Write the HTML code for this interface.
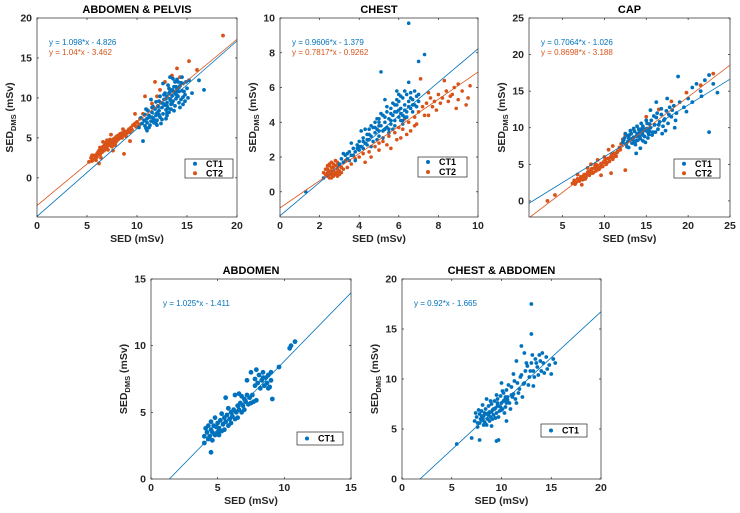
<!DOCTYPE html>
<html><head><meta charset="utf-8"><style>
body{margin:0;background:#fff;}
svg{display:block;font-family:"Liberation Sans",Arial,sans-serif;}
.tk{font-size:10.5px;font-weight:bold;fill:#262626;}
.tt{font-size:11px;font-weight:bold;fill:#000;}
.lb{font-size:10.5px;font-weight:bold;fill:#262626;}
.eq{font-size:8px;}
.lg{font-size:9px;font-weight:bold;fill:#000;}
</style></head><body>
<svg id="fig" width="740" height="513" viewBox="0 0 740 513"></svg>
<script>
const BLUE='#0072BD', ORANGE='#D95319';
// ---- data ----
const titles=['ABDOMEN & PELVIS','CHEST','CAP','ABDOMEN','CHEST & ABDOMEN'];
const xTicks=[[0,5,10,15,20],[0,2,4,6,8,10],[5,10,15,20,25],[0,5,10,15],[0,5,10,15,20]];
const yTicks=[[0,5,10,15,20],[0,2,4,6,8,10],[0,5,10,15,20,25],[0,5,10,15],[0,5,10,15,20]];
const xLims=[[0,20],[0,10],[1,25],[0,15],[0,20]];
const yLims=[[-4.9,20],[-1.45,10],[-2.2,25],[0,15],[0,20]];
const fitCT1=[[1.098,-4.826],[0.9606,-1.379],[0.7064,-1.026],[1.025,-1.411],[0.92,-1.665]];
const fitCT2=[[1.04,-3.462],[0.7817,-0.9262],[0.8698,-3.188],null,null];
const eqCT1=['y = 1.098*x - 4.826','y = 0.9606*x - 1.379','y = 0.7064*x - 1.026','y = 1.025*x - 1.411','y = 0.92*x - 1.665'];
const eqCT2=['y = 1.04*x - 3.462','y = 0.7817*x - 0.9262','y = 0.8698*x - 3.188',null,null];
const ct1Points=[
"10.5,6.8 10.7,7.2 10.8,6.5 11,7.4 11,6.9 11.2,7.8 11.3,6.6 11.4,7.1 11.5,8.2 11.6,7.5 11.7,6.9 11.8,8.6 11.9,7.8 12,8.1 12,7.2 12.1,9 12.2,8.4 12.3,7.6 12.4,9.4 12.5,8.8 12.6,8 12.7,9.8 12.8,9.1 12.9,8.5 13,10.2 13,9.4 13.1,8.7 13.2,10.6 13.3,9.9 13.4,9.2 13.5,11 13.5,10.3 13.6,9.6 13.7,11.4 13.8,10.6 13.9,9.9 14,11.1 14,10.3 14.1,12 14.2,10.8 14.3,11.5 14.4,9.8 14.5,10.9 14.6,11.8 14.8,10.4 15,11.2 15.2,12.2 16.2,12.2 16.7,11 12.6,11.8 11.9,9.5 13.2,8.2 12.4,6.8 10.9,6.2 10.6,4.6 13.8,12 14.6,9.2 11.5,8.8 12.8,10.6 13.6,12.4 10.2,6.3 11.1,8.4 12,6.6 13,7.8 14.3,8.8 15.5,10.6 13.3,10.8 13.9,11.4 14.1,10.2 12.9,9.9 13.5,9.3 14.7,10.8 12.2,7.9 11.3,7.6",
"3.0,1.6 3.1,1.9 3.2,1.7 3.3,2.1 3.4,1.9 3.5,2.3 3.6,2.1 3.7,2.5 3.8,2.3 3.9,2.7 4,2.4 4,2.9 4.1,2.6 4.2,3.1 4.3,2.8 4.4,3.3 4.5,3 4.5,3.6 4.6,3.2 4.7,3.7 4.8,3.4 4.8,4 4.9,3.6 5,4.2 5,3.2 5.1,3.8 5.2,4.4 5.2,3.5 5.3,4 5.4,4.6 5.4,3.7 5.5,4.2 5.6,4.8 5.6,3.9 5.7,4.4 5.8,5 5.8,4.1 5.9,4.6 6,5.2 6,4.3 6.1,4.8 6.2,5.4 6.2,4.4 6.3,5 6.4,5.6 6.4,4.6 6.5,5.2 6.6,5.7 6.6,4.8 6.7,5.3 6.8,5 6.9,5.5 7,5.2 5.1,6.9 6.5,9.7 7,7.5 7.3,7.9 6.5,6.3 5.9,5.8 4.3,3.6 3.6,2.8 2.2,0.8 1.3,0 4.6,2.6 5.5,3.4 3.8,1.8 6.2,3.9 4.1,3.5 5.3,5.3 5.7,3.6 6.1,4.1 4.9,3 5.9,5.3 6.3,4.3 5.0,3.8",
"12.2,8 12.4,8.6 12.6,7.8 12.8,8.9 13,8.3 13.2,9.2 13.3,7.9 13.5,8.7 13.6,9.5 13.8,8.2 14,9 14.1,9.8 14.3,8.5 14.5,9.3 14.6,10.2 14.8,8.8 15,9.6 15.1,10.6 15.3,9.1 15.5,10 15.6,11 15.8,9.4 16,10.4 16.2,11.4 16.4,9.8 16.6,10.8 16.8,11.8 17,10.2 17.2,11.2 17.4,12.3 17.6,10.6 17.8,12.8 18,11.5 18.3,13 18.6,12 19,13.5 19.5,12.8 20,14 20.5,15.5 21,16 21.5,15 22,16.5 22.5,17.2 23,16 23.5,14.8 20.5,13.5 22.5,9.4 18.8,17 14.3,7.2 13.8,6.5 15.5,12.4 16.2,13.5 17.5,14 12.9,7.3 14.9,8 16.9,9.2 18.4,10 19.8,12.2 21.6,14.3 13.4,8.4 14.2,8.8 15.2,9.4 13.9,9.2 14.7,9.7",
"4,3.2 4.1,3.8 4.2,3.5 4.3,4 4.4,3.2 4.5,3.7 4.5,4.3 4.6,3.5 4.7,4 4.8,3.3 4.8,4.6 4.9,3.9 5,3.5 5,4.2 5.1,3.8 5.2,4.4 5.3,3.6 5.4,4.1 5.5,4.6 5.5,3.7 5.6,4.3 5.7,4.8 5.8,4 5.9,4.5 6,5 6,4.2 6.1,4.7 6.2,5.2 6.3,4.5 6.4,5 6.5,5.5 6.5,4.6 6.6,5.2 6.7,5.7 6.8,5 6.9,5.5 7,6 7,5.2 7.1,5.8 7.2,6.3 7.3,5.6 7.4,6.1 7.5,5.7 7.6,6.3 7.7,5.8 7.8,7 7.8,7.5 7.9,8.2 8,7.2 8.1,7.8 8.2,6.8 8.3,7.4 8.4,8 8.5,7 8.6,7.6 8.7,7.2 8.8,7.8 8.9,6.9 9,7.4 9.1,6 9,8 9.6,8.4 10.4,9.8 10.5,10 10.8,10.3 4.5,2 5.6,6.1 7.2,7.4 7.9,5.9 6.3,6.3 6.6,6.4 4,2.7 4.3,3 5.3,4.9 5.8,5.3 8.4,7.6 8.8,6.8 7.5,8 6.8,6.2 5.1,3.3 4.6,2.9",
"7.3,5.8 7.5,6.2 7.6,5.6 7.8,6.5 8,5.9 8,6.8 8.2,6.3 8.3,5.7 8.4,7 8.5,6.5 8.6,6 8.7,7.3 8.8,6.7 8.9,6.2 9,7.5 9.1,6.9 9.2,6.4 9.3,7.8 9.4,7.1 9.5,6.6 9.6,8 9.7,7.3 9.8,6.8 9.9,8.3 10,7.6 10.1,7 10.2,8.6 10.3,7.9 10.4,7.2 10.5,8.9 10.6,8.2 10.8,7.6 11,9.2 11.2,8.5 11.4,8 11.6,9.6 11.8,9 12,10.4 12.2,9.5 12.4,10.8 12.6,11.3 12.8,10.2 13,11.6 13.2,10.8 13.4,12 13.6,11.2 13.8,12.4 14,10.8 14.2,11.6 14.5,12.2 14.8,11.4 15,10.5 15.4,11.6 12,13.3 13,17.5 13,14.5 9.5,3.8 9.7,3.9 7.8,3.9 5.5,3.5 7,4.1 9,5.3 10.5,5.8 11.2,10.5 12.3,12.6 10,9.6 8.5,8 11.5,11.8 13.2,9.3 8.1,6.1 8.7,6.6 9.2,7 9.6,7.4 8.4,5.5 7.7,6.9 10.2,7.8"
];
const ct1More=[
"10.8,7.9 11.2,6.3 11.6,8.9 11.9,6.8 12.2,9.6 12.5,7.3 12.7,10.4 13,8.1 13.2,11.2 13.4,8.6 13.6,10.9 13.8,9 14,12.3 14.2,9.4 14.4,11.9 14.6,10.1 14.9,12 15.1,10 13.1,11.6 12.3,10.2 11.4,9.8 12.9,7.4 13.7,8.4 14.8,9.6 13.3,12.6 12.1,8.9 11.7,7.3 10.4,7.5 10.9,8.6 13.9,10.8 14.2,11.3 13.4,9.6 12.6,9.3 13.0,9.0 14.5,12.6 11.0,5.9",
"3.2,2.2 3.5,1.8 3.7,2.1 4.0,2.6 4.2,2.5 4.4,2.7 4.4,3.0 4.6,3.8 4.7,2.9 4.9,4.2 5.0,3.5 5.1,4.5 5.2,3.1 5.3,4.3 5.4,4.9 5.5,3.6 5.6,4.5 5.7,5.1 5.8,3.8 5.9,5.0 6.0,4.7 6.1,5.5 6.2,4.1 6.3,5.8 6.4,4.3 6.5,4.9 6.6,5.4 6.7,4.6 6.8,5.8 6.9,4.9 7.0,5.6 4.5,3.3 4.8,3.7 5.0,4.0 5.3,3.6 5.6,4.1 5.8,4.6 6.1,4.5 4.2,2.9 3.9,2.5 3.4,2.2 6.0,5.6 6.3,4.7 6.7,5.0",
"12.3,8.3 12.5,9.2 12.7,7.4 12.9,8.6 13.1,9.6 13.3,8.5 13.5,9.9 13.7,7.7 13.9,10.2 14.0,8.3 14.2,9.4 14.4,10.6 14.6,8.2 14.8,9.8 15.0,11.0 15.2,8.6 15.4,10.5 15.7,9.0 15.9,11.6 16.1,9.4 16.3,12.0 16.5,10.4 16.8,12.6 17.1,11.0 17.3,9.6 17.7,11.8 18.1,12.4 18.5,11.0 13.0,9.0 13.8,8.8 14.6,9.0 15.4,9.5 12.8,8.1 13.6,8.0 14.4,9.8 15.1,9.9",
"",
"7.4,6.6 7.6,5.2 7.9,6.0 8.1,7.4 8.3,6.6 8.5,5.4 8.7,6.4 8.9,7.8 9.1,6.0 9.3,7.0 9.5,8.4 9.7,6.2 9.9,7.2 10.1,8.8 10.3,6.6 10.5,7.6 10.7,9.4 10.9,7.0 11.1,8.2 11.3,9.8 11.5,7.6 11.7,8.6 11.9,10.2 12.1,8.2 12.3,9.6 12.5,11.6 12.7,9.4 12.9,10.8 13.1,12.4 13.3,10.2 13.5,11.6 13.7,10.4 13.9,11.8 14.1,12.6 14.3,10.6 14.6,11.0 15.2,12.0 7.8,5.6 8.2,5.4 8.8,5.8 9.4,6.1 10.0,6.9 10.6,7.9 11.0,8.4 8.0,6.3 9.0,6.7 9.6,7.6 10.4,8.2"
];
const ct2Points=[
"5.2,2 5.4,2.5 5.5,2.1 5.7,2.8 5.8,2.4 6,3 6,2.6 6.2,3.4 6.3,2.9 6.4,3.6 6.5,3.2 6.6,3.9 6.7,3.4 6.8,4.1 6.9,3.6 7,4.3 7,3.9 7.1,4.6 7.2,4.1 7.3,4.4 7.4,4 7.5,4.7 7.6,4.3 7.7,4.9 7.8,4.5 7.9,5.1 8,4.7 8.1,5.3 8.2,4.9 8.3,5.5 8.4,5.1 8.5,5.6 8.6,5.3 8.8,5.8 9,5.6 9.2,6.1 9.4,6.3 9.6,6.6 9.8,6.8 10,7 10.3,7.4 10.6,8 11,8.5 11.5,9.3 12,10.2 12.3,11 12.8,12 13.5,12.8 14,13.7 14.3,12.6 15.2,14.6 16,13.5 18.6,17.8 8.7,3 9.3,4.6 6.2,1.8 7.6,3.4 10.8,10.2 11.8,12 9.8,8 7.4,5.4 6.6,4.5 7.2,4.6 7.8,4.2 8.0,5.2 6.9,4.0",
"2.3,1 2.4,1.3 2.4,0.9 2.5,1.2 2.5,1.5 2.6,1 2.6,1.4 2.7,1.2 2.7,0.9 2.8,1.5 2.8,1.1 2.9,1.3 2.9,0.9 3,1.2 3,1.5 3.1,1.1 2.5,0.8 2.6,1.7 2.8,1.8 2.2,1.1 3.2,1.3 3.4,1.4 3.6,1.6 3.8,1.9 4,2 4.2,2.2 4.5,2.3 4.8,2.6 5,2.8 5.2,2.9 5.5,3.2 5.8,3.4 6,3.7 6.2,3.6 6.5,4 6.8,4.3 7,4.6 7.2,4.9 7.4,5.1 7.6,5.4 7.8,5.2 8,5.6 8.2,5.4 8.4,5.8 8.6,5.5 8.8,6 9,5.3 9.2,5.8 9.5,5.4 9.6,6.1 8.3,6.4 7.1,6.5 7.5,4.4 6.6,3.5 5.6,2.5 4.3,1.7 8.9,4.8 7.9,4.7 6.3,4.2 3.3,1.8 2.7,1.6 2.9,1.7 2.4,1.1 2.6,1.2",
"6.2,2.4 6.4,2.8 6.6,2.5 6.8,3 7,2.7 7.2,3.3 7.4,2.9 7.6,3.6 7.8,3.2 8,3.9 8.2,3.5 8.4,4.2 8.6,3.8 8.8,4.5 9,4.1 9.2,4.8 9.4,4.4 9.6,5.1 9.8,4.7 10,5.4 10.2,5 10.4,5.8 10.6,5.4 10.8,6.1 11,5.7 11.2,6.5 11.4,6.1 11.6,6.8 11.8,7.3 12,7.8 12.2,8.4 12.5,9 11,7.5 10.5,7 9.2,5.6 8.4,5 7.3,2.2 9.6,3.5 12.5,4.2 10.8,3.8 13.5,9.8 15,11.5 16.5,12.5 18,13.6 19.8,14.8 21.5,15.8 23,17.4 6.8,3.6 3.2,0 4.1,0.8 8.9,4.9 9.5,4.6 10.1,5.6",
null,null
];
const ct2More=[
"5.5,2.8 5.9,2.2 6.1,3.2 6.4,2.5 6.6,3.7 6.9,4.4 7.1,3.5 7.3,4.8 7.5,3.9 7.7,4.4 7.9,4.5 8.1,4.8 8.3,5.0 8.5,5.0 8.7,5.6 8.9,5.2 9.1,5.9 9.3,5.7 9.5,6.0 7.0,4.7 6.3,3.8 5.6,2.3 8.6,6.1 9.9,6.4 10.2,6.7 7.8,4.1 6.7,4.0",
"2.4,1.5 2.5,1.0 2.6,0.8 2.7,1.4 2.8,1.0 2.9,1.5 3.0,1.0 2.3,1.3 2.5,1.6 2.7,1.0 2.9,1.1 3.1,1.4 4.6,2.0 5.0,2.4 5.4,2.7 5.9,3.0 6.4,3.3 6.9,3.9 7.3,4.4 7.7,4.9 8.1,5.1 8.5,5.2 9.0,6.2 9.4,5.0 8.7,5.6 7.5,5.7 6.8,3.8 6.1,3.1",
"6.5,2.3 6.9,2.8 7.1,3.0 7.5,3.4 7.9,3.6 8.1,4.0 8.5,4.4 8.7,3.9 9.1,4.6 9.3,4.3 9.7,4.9 9.9,5.3 10.1,5.6 10.3,5.2 10.7,5.9 10.9,6.4 11.1,6.0 11.5,6.6 11.9,7.0 8.0,4.5 9.0,5.0 10.0,6.0 7.7,3.0 8.3,3.8",
null,null
];
// ---- layout ----
const boxes=[[37,18,237,217],[280,18,478,217],[529,18,730,217],[151,279,351,479],[402,279,601,479]];
const legendBoxes=[[185,159,233,178],[418,157,467,177],[674,159,720,178],[297,432,343,445],[541,424,587,437]];
const dotR=[1.9,1.8,1.9,2.4,1.9];
const NS='http://www.w3.org/2000/svg';
const svg=document.getElementById('fig');
function mk(tag,attrs,parent){const e=document.createElementNS(NS,tag);for(const k in attrs)e.setAttribute(k,attrs[k]);(parent||svg).appendChild(e);return e;}
function parsePts(s){return s.trim()?s.trim().split(/\s+/).map(p=>p.split(',').map(Number)):[];}

titles.forEach((title,i)=>{
  const [L,T,R,B]=boxes[i];
  const xs=v=>L+(v-xLims[i][0])/(xLims[i][1]-xLims[i][0])*(R-L);
  const ys=v=>B-(v-yLims[i][0])/(yLims[i][1]-yLims[i][0])*(B-T);
  const g=mk('g',{});
  
  
  const cp=mk('clipPath',{id:'c'+i},g);mk('rect',{x:L,y:T,width:R-L,height:B-T},cp);
  const plot=mk('g',{'clip-path':'url(#c'+i+')'},g);
  function drawPts(str,color,name){
    if(!str)return;
    parsePts(str).forEach(([x,y])=>{
      const c=mk('circle',{cx:xs(x),cy:ys(y),r:dotR[i],fill:color},plot);
      
      
    });
  }
  drawPts(ct2Points[i],ORANGE,'ct2-point');
  drawPts(ct2More[i],ORANGE,'ct2-point');
  drawPts(ct1Points[i],BLUE,'ct1-point');
  drawPts(ct1More[i],BLUE,'ct1-point');
  function drawFit(f,color,name){
    if(!f)return;
    const [x0,x1]=xLims[i];
    const l=mk('line',{x1:xs(x0),y1:ys(f[0]*x0+f[1]),x2:xs(x1),y2:ys(f[0]*x1+f[1]),stroke:color,'stroke-width':0.8},plot);
    
    
  }
  drawFit(fitCT1[i],BLUE,'ct1-fit-line');
  drawFit(fitCT2[i],ORANGE,'ct2-fit-line');
  const ax=mk('rect',{x:L,y:T,width:R-L,height:B-T,fill:'none',stroke:'#262626','stroke-width':0.7},g);
  
  
  xTicks[i].forEach(v=>{const x=xs(v);
    mk('line',{x1:x,y1:B,x2:x,y2:B-2,stroke:'#262626','stroke-width':0.7},g);
    mk('line',{x1:x,y1:T,x2:x,y2:T+2,stroke:'#262626','stroke-width':0.7},g);
    const t=mk('text',{x:x,y:B+12,'text-anchor':'middle',class:'tk'},g);t.textContent=v;
    
    
  });
  yTicks[i].forEach(v=>{const y=ys(v);
    mk('line',{x1:L,y1:y,x2:L+2,y2:y,stroke:'#262626','stroke-width':0.7},g);
    mk('line',{x1:R,y1:y,x2:R-2,y2:y,stroke:'#262626','stroke-width':0.7},g);
    const t=mk('text',{x:L-5,y:y+3.5,'text-anchor':'end',class:'tk'},g);t.textContent=v;
    
    
  });
  const tt=mk('text',{x:(L+R)/2,y:T-5,'text-anchor':'middle',class:'tt'},g);tt.textContent=title;
  
  
  const xl=mk('text',{x:(L+R)/2,y:B+25,'text-anchor':'middle',class:'lb'},g);xl.textContent='SED (mSv)';
  
  
  const yl=mk('text',{transform:`translate(${L-24},${(T+B)/2}) rotate(-90)`,'text-anchor':'middle',class:'lb'},g);
  yl.innerHTML='SED<tspan font-size="7.5" dy="3">DMS</tspan><tspan dy="-3"> (mSv)</tspan>';
  
  
  const e1=mk('text',{x:L+12,y:T+27,class:'eq',fill:BLUE},g);e1.textContent=eqCT1[i];
  
  
  if(eqCT2[i]){const e2=mk('text',{x:L+12,y:T+37,class:'eq',fill:ORANGE},g);e2.textContent=eqCT2[i];
    
    }
  const [a,b,c,d]=legendBoxes[i];
  const lg=mk('g',{},g);
  
  
  mk('rect',{x:a,y:b,width:c-a,height:d-b,fill:'#fff',stroke:'#262626','stroke-width':0.7},lg);
  const two=!!ct2Points[i];
  const rowH=two?(d-b)/2:(d-b);
  const entries=two?[['CT1',BLUE],['CT2',ORANGE]]:[['CT1',BLUE]];
  entries.forEach(([n,col],k)=>{const cy=b+rowH*(k+0.5);
    mk('circle',{cx:a+10,cy:cy,r:2,fill:col},lg);
    const t=mk('text',{x:a+21,y:cy+3.2,class:'lg'},lg);t.textContent=n;
    
    
  });
});
</script>
</body></html>
